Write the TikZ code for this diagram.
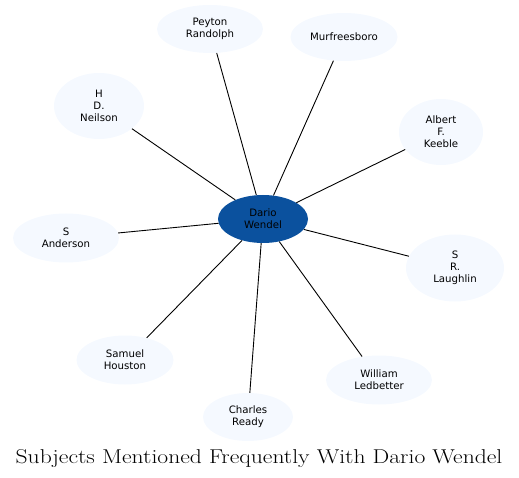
\documentclass[tikz,border=0pt]{standalone}
\usepackage{fontspec}
\usepackage{graphicx}
\usepackage{tikz}
\usetikzlibrary{shapes.geometric}
\newfontfamily\labelfont{DejaVu Sans}
\definecolor{hubblue}{RGB}{11,81,158}
\definecolor{leafblue}{RGB}{245,249,255}

\begin{document}
\begin{tikzpicture}[x=1pt,y=-1pt,
  subject/.style={ellipse,fill=leafblue,inner sep=0pt,align=center,
    font=\labelfont\fontsize{10.2}{12}\selectfont},
  hub/.style={subject,fill=hubblue},
  link/.style={line width=0.9pt}]
\useasboundingbox (0,0) rectangle (519,478);

\node[hub,minimum width=90,minimum height=48] (dario) at (263,219) {Dario\\Wendel};

\node[subject,minimum width=106,minimum height=48] (peyton) at (210,29) {Peyton\\Randolph};
\node[subject,minimum width=107,minimum height=48] (murf) at (344,37) {Murfreesboro};
\node[subject,minimum width=90,minimum height=66] (neilson) at (99,106) {H\\D.\\Neilson};
\node[subject,minimum width=84,minimum height=66] (keeble) at (441,132) {Albert\\F.\\Keeble};
\node[subject,minimum width=106,minimum height=49] (anderson) at (66,238) {S\\Anderson};
\node[subject,minimum width=98,minimum height=67] (laughlin) at (455,268) {S\\R.\\Laughlin};
\node[subject,minimum width=97,minimum height=49] (houston) at (125,360) {Samuel\\Houston};
\node[subject,minimum width=106,minimum height=49] (ledbetter) at (379,380) {William\\Ledbetter};
\node[subject,minimum width=90,minimum height=48] (ready) at (248,417) {Charles\\Ready};

\draw[link] (dario) -- (peyton);
\draw[link] (dario) -- (murf);
\draw[link] (dario) -- (neilson);
\draw[link] (dario) -- (keeble);
\draw[link] (dario) -- (anderson);
\draw[link] (dario) -- (laughlin);
\draw[link] (dario) -- (houston);
\draw[link] (dario) -- (ledbetter);
\draw[link] (dario) -- (ready);

\node[anchor=base,inner sep=0pt,font=\fontsize{20}{24}\selectfont] (title) at (259,463)
  {\scalebox{1.18}[1]{Subjects Mentioned Frequently With Dario Wendel}};
\end{tikzpicture}
\end{document}
